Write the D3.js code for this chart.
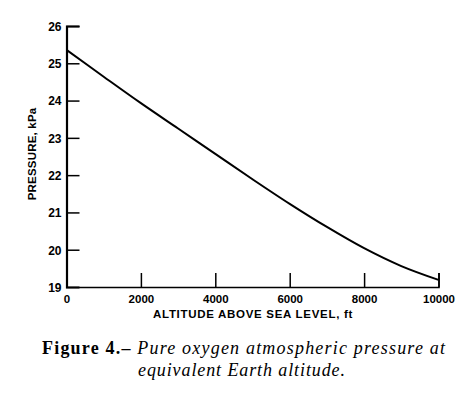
<!DOCTYPE html>
<html><head><meta charset="utf-8">
<script src="https://cdn.jsdelivr.net/npm/d3@7"></script>
<style>body{margin:0;background:#fff}svg{display:block}</style>
</head><body>
<svg id="c" width="462" height="393"></svg>
<script>
const altitudes = [0, 1000, 2000, 3000, 4000, 5000, 6000, 7000, 8000, 9000, 10000];
const pressures = [25.36, 24.64, 23.93, 23.25, 22.57, 21.89, 21.23, 20.61, 20.04, 19.56, 19.19];
const xTicks = [0, 2000, 4000, 6000, 8000, 10000];
const yTicks = [19, 20, 21, 22, 23, 24, 25, 26];
const xTitle = "ALTITUDE ABOVE SEA LEVEL, ft";
const yTitle = "PRESSURE, kPa";
const captionBold = "Figure 4.\u2013 ";
const captionItalic1 = "Pure oxygen atmospheric pressure at";
const captionItalic2 = "equivalent Earth altitude.";

const svg = d3.select("#c");
const x = d3.scaleLinear().domain([0, 10000]).range([66.5, 438.5]);
const y = d3.scaleLinear().domain([19, 26]).range([287, 26]);
const sans = "'Liberation Sans', Arial, Helvetica, sans-serif";

// x axis
const xa = svg.append("g").attr("transform", `translate(0,${y(19)})`)
  .call(d3.axisBottom(x).tickValues(xTicks).tickSize(-14).tickPadding(0).tickFormat(d3.format("d")));
xa.select(".domain").attr("stroke", "#000").attr("stroke-width", 1.6);
xa.selectAll(".tick line").attr("stroke", "#000").attr("stroke-width", 1.5);
xa.selectAll(".tick").filter(d => d === 0).select("line").remove();
xa.selectAll(".tick text").attr("font-family", sans).attr("font-weight", "bold")
  .attr("font-size", "11.5px").attr("fill", "#000").attr("y", 0).attr("dy", "15.5px");

// y axis
const ya = svg.append("g").attr("transform", `translate(${x(0)},0)`)
  .call(d3.axisLeft(y).tickValues(yTicks).tickSize(-13).tickPadding(0).tickFormat(d3.format("d")));
ya.select(".domain").attr("stroke", "#000").attr("stroke-width", 2.2);
ya.selectAll(".tick line").attr("stroke", "#000").attr("stroke-width", 1.5);
ya.selectAll(".tick").filter(d => d === 19).select("line").remove();
ya.selectAll(".tick text").attr("font-family", sans).attr("font-weight", "bold")
  .attr("font-size", "12px").attr("fill", "#000").attr("x", -5).attr("dy", "0.36em");

// curve
const pts = altitudes.map((a, i) => [a, pressures[i]]);
svg.append("path").datum(pts)
  .attr("fill", "none").attr("stroke", "#000").attr("stroke-width", 2)
  .attr("d", d3.line().x(d => x(d[0])).y(d => y(d[1])).curve(d3.curveCatmullRom));

// axis titles
svg.append("text").attr("x", 253).attr("y", 317.5).attr("text-anchor", "middle")
  .attr("font-family", sans).attr("font-weight", "bold").attr("font-size", "11.5px")
  .attr("letter-spacing", "0.7px").text(xTitle);
svg.append("text").attr("transform", "translate(36,154) rotate(-90)").attr("text-anchor", "middle")
  .attr("font-family", sans).attr("font-weight", "bold").attr("font-size", "11.5px")
  .attr("letter-spacing", "0.2px").text(yTitle);

// caption
const serif = "'Liberation Serif', 'Times New Roman', serif";
const c1 = svg.append("text").attr("x", 42).attr("y", 354)
  .attr("font-family", serif).attr("font-size", "18px")
  .attr("textLength", 403).attr("lengthAdjust", "spacing");
c1.append("tspan").attr("font-weight", "bold").text(captionBold);
c1.append("tspan").attr("font-style", "italic").text(captionItalic1);
svg.append("text").attr("x", 138).attr("y", 376)
  .attr("font-family", serif).attr("font-size", "18px").attr("font-style", "italic")
  .attr("textLength", 207).attr("lengthAdjust", "spacing").text(captionItalic2);
</script>
</body></html>
